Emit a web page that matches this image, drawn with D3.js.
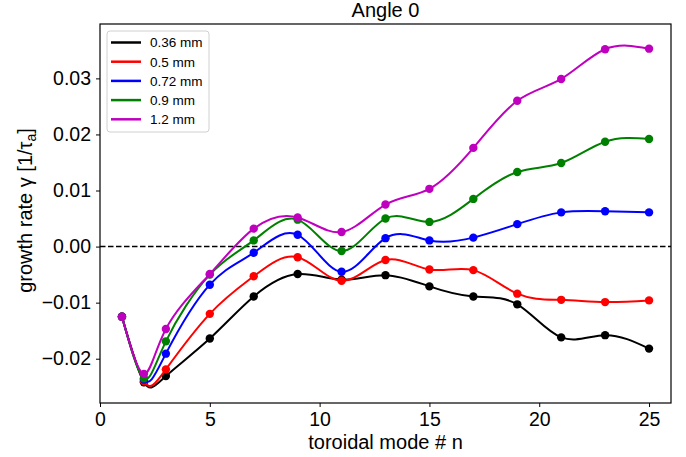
<!DOCTYPE html>
<html>
<head>
<meta charset="utf-8">
<script src="https://cdn.jsdelivr.net/npm/d3@7"></script>
<style>
  body { margin: 0; background: #fff; }
  svg text { font-family: "Liberation Sans", Arial, sans-serif; fill: #000; }
</style>
</head>
<body>
<div id="chart"></div>
<script>
// data
const modes = [1, 2, 3, 5, 7, 9, 11, 13, 15, 17, 19, 21, 23, 25];
const labels = ["0.36 mm", "0.5 mm", "0.72 mm", "0.9 mm", "1.2 mm"];
const colors = ["#000000", "#ff0000", "#0000ff", "#008000", "#bf00bf"];
const g036 = [-0.0125, -0.0242, -0.0231, -0.0164, -0.0089, -0.0049, -0.0059, -0.0051, -0.0071, -0.0089, -0.0103, -0.0162, -0.0158, -0.0182];
const g050 = [-0.0125, -0.0240, -0.0219, -0.0120, -0.0053, -0.0019, -0.0061, -0.0024, -0.0041, -0.0042, -0.0084, -0.0095, -0.0099, -0.0096];
const g072 = [-0.0125, -0.0237, -0.0191, -0.0068, -0.0011, 0.0021, -0.0045, 0.0015, 0.0011, 0.0016, 0.0040, 0.0061, 0.0063, 0.0061];
const g090 = [-0.0125, -0.0235, -0.0169, -0.0050, 0.0011, 0.0048, -0.0008, 0.0050, 0.0044, 0.0085, 0.0133, 0.0149, 0.0187, 0.0192];
const g120 = [-0.0125, -0.0227, -0.0147, -0.0049, 0.0032, 0.0052, 0.0026, 0.0075, 0.0103, 0.0176, 0.0260, 0.0299, 0.0352, 0.0353];
const series = [g036, g050, g072, g090, g120];
const xTicks = [0, 5, 10, 15, 20, 25];
const yTicks = [-0.02, -0.01, 0.00, 0.01, 0.02, 0.03];

const width = 686, height = 457;
const margin = { top: 24, right: 15, bottom: 54, left: 100 };

const svg = d3.select("#chart").append("svg")
  .attr("width", width)
  .attr("height", height);

const xScale = d3.scaleLinear()
  .domain([0, 26])
  .range([margin.left, width - margin.right]);

const yScale = d3.scaleLinear()
  .domain([-0.0279, 0.0397])
  .range([height - margin.bottom, margin.top]);

// axes
const xAxis = d3.axisBottom(xScale).tickValues(xTicks).tickSize(4).tickPadding(5).tickFormat(d3.format("d"));
const yAxis = d3.axisLeft(yScale).tickValues(yTicks).tickSize(4).tickPadding(5)
  .tickFormat(d => d3.format(".2f")(d).replace("-", "\u2212"));

svg.append("g")
  .attr("transform", `translate(0,${height - margin.bottom})`)
  .call(xAxis)
  .call(g => g.select(".domain").remove())
  .call(g => g.selectAll("text").attr("font-size", 19.5).attr("font-family", "Liberation Sans, Arial, sans-serif"));

svg.append("g")
  .attr("transform", `translate(${margin.left},0)`)
  .call(yAxis)
  .call(g => g.select(".domain").remove())
  .call(g => g.selectAll("text").attr("font-size", 19.5).attr("font-family", "Liberation Sans, Arial, sans-serif"));

// zero line
svg.append("line")
  .attr("x1", margin.left).attr("x2", width - margin.right)
  .attr("y1", yScale(0)).attr("y2", yScale(0))
  .attr("stroke", "#000").attr("stroke-width", 1.5)
  .attr("stroke-dasharray", "5.5,2.5");

// lines + dots
const line = d3.line()
  .x((d, i) => xScale(modes[i]))
  .y(d => yScale(d))
  .curve(d3.curveNatural);

series.forEach((s, k) => {
  svg.append("path")
    .attr("d", line(s))
    .attr("fill", "none")
    .attr("stroke", colors[k])
    .attr("stroke-width", 2);
  svg.selectAll(".dot" + k)
    .data(s)
    .join("circle")
    .attr("class", "dot" + k)
    .attr("cx", (d, i) => xScale(modes[i]))
    .attr("cy", d => yScale(d))
    .attr("r", 4.2)
    .attr("fill", colors[k]);
});

// frame
svg.append("rect")
  .attr("x", margin.left).attr("y", margin.top)
  .attr("width", width - margin.right - margin.left)
  .attr("height", height - margin.bottom - margin.top)
  .attr("fill", "none").attr("stroke", "#000").attr("stroke-width", 1.2);

// title and axis labels
svg.append("text")
  .attr("x", (margin.left + width - margin.right) / 2)
  .attr("y", 17)
  .attr("text-anchor", "middle")
  .attr("font-size", 20)
  .text("Angle 0");

svg.append("text")
  .attr("x", (margin.left + width - margin.right) / 2)
  .attr("y", 449)
  .attr("text-anchor", "middle")
  .attr("font-size", 20)
  .text("toroidal mode # n");

const yl = svg.append("text")
  .attr("transform", `translate(32,${(margin.top + height - margin.bottom) / 2 - 3}) rotate(-90)`)
  .attr("text-anchor", "middle")
  .attr("font-size", 20);
yl.append("tspan").text("growth rate \u03b3 [1/\u03c4");
yl.append("tspan").attr("font-size", 14).attr("dy", 4).text("a");
yl.append("tspan").attr("dy", -4).text("]");

// legend
const legend = svg.append("g").attr("transform", "translate(107,31)");
legend.append("rect")
  .attr("width", 102).attr("height", 101)
  .attr("rx", 3)
  .attr("fill", "#fff").attr("fill-opacity", 0.8)
  .attr("stroke", "#d0d0d0");
labels.forEach((lab, k) => {
  const y = 11.5 + k * 19.2;
  legend.append("line")
    .attr("x1", 4).attr("x2", 34).attr("y1", y).attr("y2", y)
    .attr("stroke", colors[k]).attr("stroke-width", 2.5);
  legend.append("text")
    .attr("x", 43).attr("y", y + 4.8)
    .attr("font-size", 13.5)
    .text(lab);
});
</script>
</body>
</html>
